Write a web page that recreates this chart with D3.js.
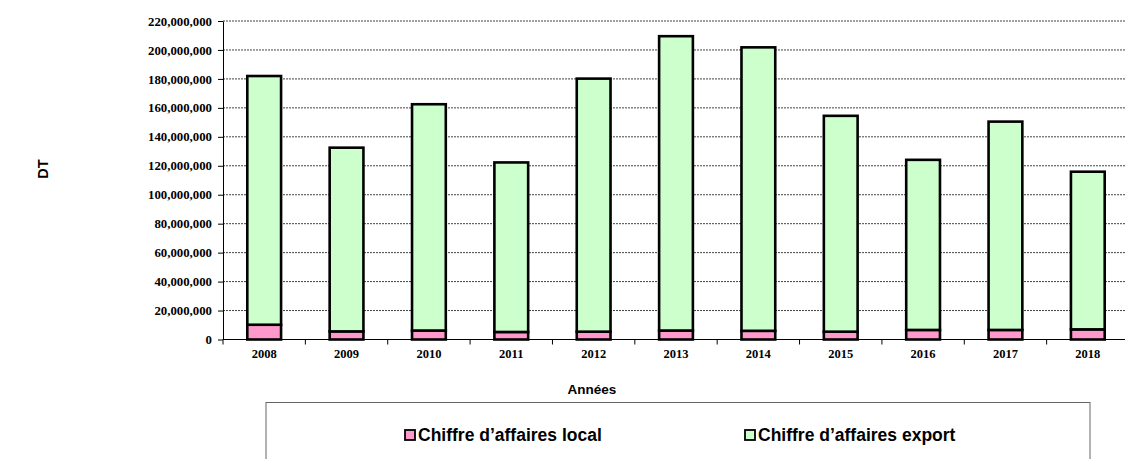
<!DOCTYPE html>
<html><head><meta charset="utf-8">
<script src="https://cdn.jsdelivr.net/npm/d3@7"></script>
<style>body{margin:0;background:#fff}svg{display:block}</style>
</head><body>
<svg id="c" width="1125" height="459"></svg>
<script>
const years = ["2008","2009","2010","2011","2012","2013","2014","2015","2016","2017","2018"];
const localVals = [10.2e6,5.6e6,6.2e6,5.2e6,5.4e6,6.2e6,6.0e6,5.4e6,6.6e6,6.6e6,7.0e6];
const totalVals = [182e6,132.5e6,162.5e6,122.3e6,180.2e6,209.5e6,201.8e6,154.5e6,124.1e6,150.5e6,115.9e6];
const exportVals = totalVals.map((t,i)=>t-localVals[i]);
const yTicks = [0,20e6,40e6,60e6,80e6,100e6,120e6,140e6,160e6,180e6,200e6,220e6];
const seriesNames = ["Chiffre d\u2019affaires local","Chiffre d\u2019affaires export"];
const seriesColors = ["#FF99CC","#CCFFCC"];

const svg = d3.select("#c");
const x0=223, x1=1129, yTop=21, yBot=339.5;
const x = d3.scaleBand().domain(years).range([x0,x1]).paddingInner(0.59).paddingOuter(0.295);
const y = d3.scaleLinear().domain([0,220e6]).range([yBot,yTop]);

// gridlines
svg.append("g").selectAll("line").data(yTicks.slice(1)).join("line")
  .attr("x1",x0).attr("x2",x1).attr("y1",d=>y(d)).attr("y2",d=>y(d))
  .attr("stroke","#444").attr("stroke-width",1).attr("stroke-dasharray","2,1");

// y axis
const fmt = d3.format(",");
const ya = svg.append("g").attr("transform",`translate(${x0},0)`)
  .call(d3.axisLeft(y).tickValues(yTicks).tickFormat(d=>fmt(d)).tickSize(5).tickSizeOuter(0));
ya.select(".domain").attr("stroke","#000");
ya.selectAll("text").attr("font-family","Liberation Serif").attr("font-weight","bold").attr("font-size","12.8px").attr("fill","#000").attr("dx","-3");

// bars
const stackData = years.map((yr,i)=>({year:yr, local:localVals[i], export:exportVals[i]}));
const stack = d3.stack().keys(["local","export"])(stackData);
stack.forEach((s,si)=>{
  svg.append("g").selectAll("rect").data(s).join("rect")
    .attr("x",d=>x(d.data.year)).attr("width",x.bandwidth())
    .attr("y",d=>y(d[1])).attr("height",d=>y(d[0])-y(d[1]))
    .attr("fill",seriesColors[si]).attr("stroke","#000").attr("stroke-width",2.6);
});

// x axis
const xa = svg.append("g").attr("transform",`translate(0,${yBot})`);
xa.append("line").attr("x1",x0).attr("x2",x1).attr("stroke","#000");
const bounds = d3.range(years.length+1).map(i=>x0+i*x.step());
xa.selectAll("line.t").data(bounds).join("line").attr("class","t")
  .attr("x1",d=>d).attr("x2",d=>d).attr("y1",0).attr("y2",5).attr("stroke","#000");
xa.selectAll("text").data(years).join("text")
  .attr("x",d=>x(d)+x.bandwidth()/2).attr("y",18).attr("text-anchor","middle")
  .attr("font-family","Liberation Serif").attr("font-weight","bold").attr("font-size","12.5px").text(d=>d);

// axis titles
svg.append("text").attr("transform","translate(48,169) rotate(-90)").attr("text-anchor","middle")
  .attr("font-family","Liberation Sans").attr("font-weight","bold").attr("font-size","14.5px").text("DT");
svg.append("text").attr("x",592).attr("y",394).attr("text-anchor","middle")
  .attr("font-family","Liberation Sans").attr("font-weight","bold").attr("font-size","13.5px").text("Ann\u00e9es");

// legend
svg.append("rect").attr("x",266).attr("y",402.5).attr("width",824).attr("height",70)
  .attr("fill","#fff").attr("stroke","#666").attr("stroke-width",1);
const legX = [405,745];
seriesNames.forEach((n,i)=>{
  const g = svg.append("g").attr("transform",`translate(${legX[i]},435)`);
  g.append("rect").attr("x",0).attr("y",-5).attr("width",10).attr("height",10)
    .attr("fill",seriesColors[i]).attr("stroke","#000").attr("stroke-width",1.8);
  g.append("text").attr("x",13).attr("y",6).attr("font-family","Liberation Sans")
    .attr("font-weight","bold").attr("font-size","17.5px").text(n);
});
</script>
</body></html>
